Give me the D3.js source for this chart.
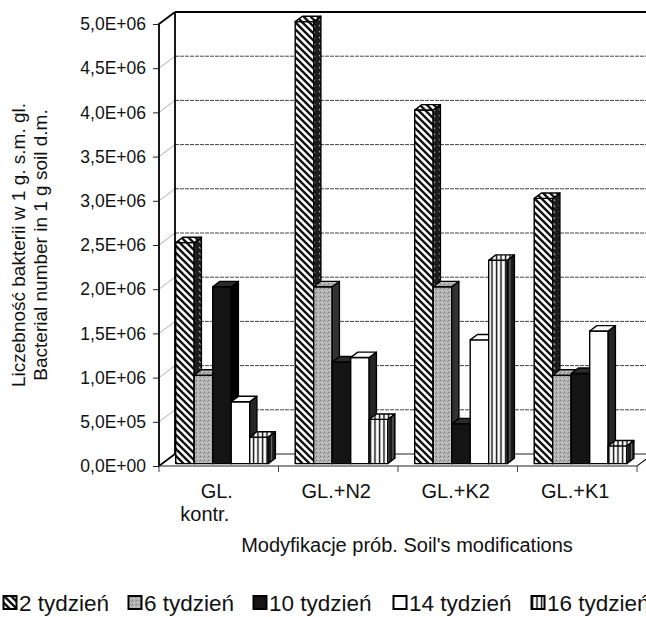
<!DOCTYPE html>
<html><head><meta charset="utf-8">
<script src="https://cdn.jsdelivr.net/npm/d3@7"></script>
<style>
html,body{margin:0;padding:0;background:#fff;}
svg{display:block;font-family:"Liberation Sans",Arial,sans-serif;}
</style></head>
<body>
<svg id="c" width="646" height="617"></svg>
<script>
// ---- data ----
const categories = ["GL. kontr.", "GL.+N2", "GL.+K2", "GL.+K1"];
const categoryLines = [["GL.", "kontr."], ["GL.+N2"], ["GL.+K2"], ["GL.+K1"]];
const seriesNames = ["2 tydzień", "6 tydzień", "10 tydzień", "14 tydzień", "16 tydzień"];
const week2  = [2.5e6, 5.0e6, 4.0e6, 3.0e6];
const week6  = [1.0e6, 2.0e6, 2.0e6, 1.0e6];
const week10 = [2.0e6, 1.15e6, 0.45e6, 1.02e6];
const week14 = [0.7e6, 1.2e6, 1.4e6, 1.5e6];
const week16 = [0.3e6, 0.5e6, 2.3e6, 0.2e6];
const seriesValues = [week2, week6, week10, week14, week16];
const yTicks = [0, 5e5, 1e6, 1.5e6, 2e6, 2.5e6, 3e6, 3.5e6, 4e6, 4.5e6, 5e6];
const yTickLabels = ["0,0E+00","5,0E+05","1,0E+06","1,5E+06","2,0E+06","2,5E+06","3,0E+06","3,5E+06","4,0E+06","4,5E+06","5,0E+06"];
const yTitleLines = ["Liczebność bakterii w 1 g. s.m. gl.", "Bacterial number in 1 g soil d.m."];
const xTitle = "Modyfikacje prób. Soil's modifications";

// ---- layout ----
const svg = d3.select("#c");
const DX = 16, DY = -12, D0 = 0.2, D1 = 0.65;
const X0 = 159, CATW = 119.5;
const y = d3.scaleLinear().domain([0, 5e6]).range([466, 24]);
const xCat = d3.scaleBand().domain(categories).range([X0, X0 + 4 * CATW]).padding(0);
const xSer = d3.scaleBand().domain(seriesNames).range([13.5, 13.5 + 5 * 18.5]).padding(0);
const FONT = '"Liberation Sans",Arial,sans-serif';

// ---- patterns ----
const defs = svg.append("defs");
function pat(id, w, h, bg, draw) {
  const p = defs.append("pattern").attr("id", id).attr("patternUnits", "userSpaceOnUse")
    .attr("width", w).attr("height", h);
  p.append("rect").attr("width", w).attr("height", h).attr("fill", bg);
  draw(p);
}
pat("hatch", 7, 7, "#fff", p => p.append("path")
  .attr("d", "M0,0L7,7M-2,5L2,9M5,-2L9,2").attr("stroke", "#111").attr("stroke-width", 2.4));
pat("hatchDark", 6, 6, "#1c1c1c", p => p.append("path")
  .attr("d", "M1,1L3,3").attr("stroke", "#9a9a9a").attr("stroke-width", 1.2));
pat("speck", 4, 4, "#b4b4b4", p => {
  p.append("rect").attr("x", 0).attr("y", 0).attr("width", 1).attr("height", 1).attr("fill", "#777");
  p.append("rect").attr("x", 2).attr("y", 2).attr("width", 1).attr("height", 1).attr("fill", "#d8d8d8");
  p.append("rect").attr("x", 3).attr("y", 1).attr("width", 1).attr("height", 1).attr("fill", "#8a8a8a");
});
pat("stripes", 4.5, 4, "#fff", p => p.append("path")
  .attr("d", "M1.5,0V4").attr("stroke", "#111").attr("stroke-width", 1.5));
pat("stripesDark", 4.5, 4, "#1a1a1a", p => p.append("path")
  .attr("d", "M1.5,0V4").attr("stroke", "#777").attr("stroke-width", 1));

const styles = [
  {front: "url(#hatch)", side: "url(#hatchDark)", top: "url(#hatch)"},
  {front: "url(#speck)", side: "#333", top: "url(#speck)"},
  {front: "#141414", side: "#000", top: "#2a2a2a"},
  {front: "#fff", side: "#262626", top: "#fff"},
  {front: "url(#stripes)", side: "url(#stripesDark)", top: "url(#stripes)"}
];

// ---- walls & gridlines ----
const g = svg.append("g");
const backX0 = X0 + DX, backX1 = 660;
g.selectAll("line.grid").data(yTicks.slice(1, -1)).enter().append("line")
  .attr("x1", backX0).attr("x2", backX1)
  .attr("y1", d => y(d) + DY).attr("y2", d => y(d) + DY)
  .attr("stroke", "#444").attr("stroke-width", 1).attr("stroke-dasharray", "4,1");
g.selectAll("line.wgrid").data(yTicks.slice(1, -1)).enter().append("line")
  .attr("x1", X0).attr("x2", X0 + DX)
  .attr("y1", d => y(d)).attr("y2", d => y(d) + DY)
  .attr("stroke", "#999").attr("stroke-width", 0.8);
g.append("line").attr("x1", backX0).attr("x2", backX1).attr("y1", y(0) + DY).attr("y2", y(0) + DY)
  .attr("stroke", "#222").attr("stroke-width", 1.2);
g.append("line").attr("x1", backX0).attr("x2", backX1).attr("y1", y(5e6) + DY).attr("y2", y(5e6) + DY)
  .attr("stroke", "#000").attr("stroke-width", 2);
g.append("line").attr("x1", backX0).attr("x2", backX0).attr("y1", y(5e6) + DY).attr("y2", y(0) + DY)
  .attr("stroke", "#000").attr("stroke-width", 1.8);
g.append("path").attr("d", `M${X0 + DX},${y(5e6) + DY}L${X0},${y(5e6)}L${X0},${y(0)}L${X0 + DX},${y(0) + DY}`)
  .attr("fill", "none").attr("stroke", "#000").attr("stroke-width", 1.8);
const xEnd = X0 + 4 * CATW;
g.append("path").attr("d", `M${X0},${y(0)}L${xEnd},${y(0)}L${xEnd + DX},${y(0) + DY}`)
  .attr("fill", "none").attr("stroke", "#222").attr("stroke-width", 1.2);

// ---- y axis ----
const yAxis = d3.axisLeft(y).tickValues(yTicks).tickFormat((d, i) => yTickLabels[i]).tickSize(6).tickPadding(7);
const ya = svg.append("g").attr("transform", `translate(${X0},0)`).call(yAxis);
ya.select(".domain").remove();
ya.selectAll("line").attr("stroke", "#222");
ya.selectAll("text").attr("font-size", 17.5).attr("font-family", FONT).attr("fill", "#111");

// ---- x ticks & labels ----
const bounds = categories.map(c => xCat(c)).concat([xEnd]);
svg.selectAll("line.xt").data(bounds).enter().append("line")
  .attr("x1", d => d).attr("x2", d => d).attr("y1", y(0)).attr("y2", y(0) + 6)
  .attr("stroke", "#444").attr("stroke-width", 1);
const lab = svg.selectAll("text.cat").data(categories).enter().append("text")
  .attr("font-size", 20).attr("font-family", FONT).attr("fill", "#111").attr("text-anchor", "middle");
lab.each(function(c, i) {
  const cx = xCat(c) + xCat.bandwidth() / 2;
  categoryLines[i].forEach((t, j) => {
    d3.select(this).append("tspan").attr("x", j === 0 ? cx - 2 : cx - 14).attr("y", 498 + j * 23).text(t);
  });
});

// ---- bars ----
const bars = svg.append("g");
categories.forEach((c, ci) => {
  seriesNames.forEach((s, si) => {
    const v = seriesValues[si][ci];
    const xl = xCat(c) + xSer(s) + D0 * DX;
    const xr = xl + xSer.bandwidth();
    const yb = y(0) + D0 * DY, yt = y(v) + D0 * DY;
    const ddx = (D1 - D0) * DX, ddy = (D1 - D0) * DY;
    const st = styles[si];
    const bg = bars.append("g").attr("stroke", "#000").attr("stroke-width", 1.4).attr("stroke-linejoin", "round");
    bg.append("rect").attr("x", xl).attr("y", yt).attr("width", xr - xl).attr("height", yb - yt).attr("fill", st.front);
    bg.append("path").attr("d", `M${xr},${yb}L${xr},${yt}L${xr + ddx},${yt + ddy}L${xr + ddx},${yb + ddy}Z`).attr("fill", st.side);
    bg.append("path").attr("d", `M${xl},${yt}L${xr},${yt}L${xr + ddx},${yt + ddy}L${xl + ddx},${yt + ddy}Z`).attr("fill", st.top);
  });
});

// ---- axis titles ----
svg.append("text").attr("x", 407).attr("y", 552).attr("text-anchor", "middle")
  .attr("font-size", 20).attr("font-family", FONT).attr("fill", "#111").text(xTitle);
const ytt = svg.append("text").attr("transform", "translate(0,245) rotate(-90)")
  .attr("text-anchor", "middle").attr("font-size", 19).attr("font-family", FONT).attr("fill", "#111");
yTitleLines.forEach((t, i) => ytt.append("tspan").attr("x", 0).attr("y", i === 0 ? 25 : 47).text(t));

// ---- legend ----
const legX = [3, 128, 253, 393, 531];
const legendFill = ["url(#hatch)", "url(#speck)", "#141414", "#fff", "url(#stripes)"];
const leg = svg.selectAll("g.leg").data(seriesNames).enter().append("g")
  .attr("transform", (d, i) => `translate(${legX[i]},0)`);
leg.append("rect").attr("x", 0.5).attr("y", 596).attr("width", 13).attr("height", 13)
  .attr("fill", (d, i) => legendFill[i]).attr("stroke", "#000").attr("stroke-width", 2);
leg.append("text").attr("x", 16).attr("y", 611).attr("font-size", 22.5).attr("font-family", FONT)
  .attr("fill", "#111").text(d => d);
</script>
</body></html>
